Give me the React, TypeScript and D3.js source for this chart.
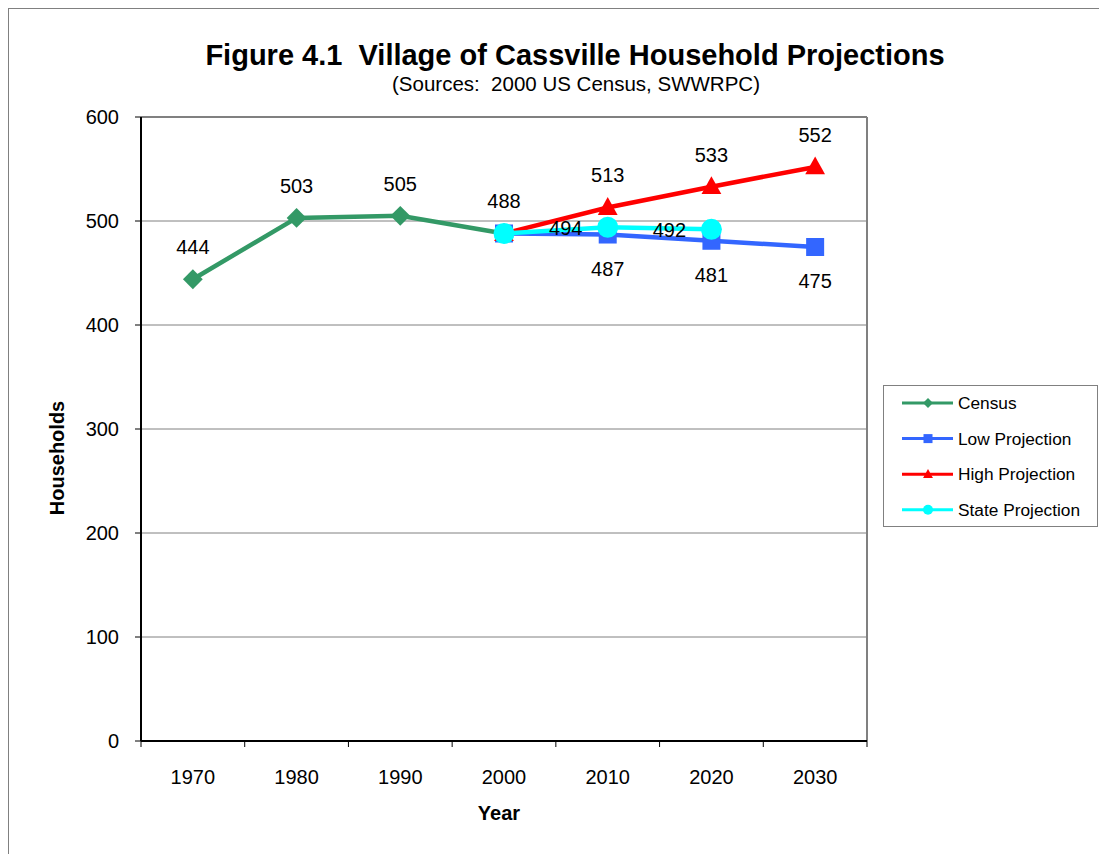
import React, { useEffect } from "react";
import * as d3 from "d3";

const years = ["1970", "1980", "1990", "2000", "2010", "2020", "2030"];
const census = [444, 503, 505, 488, null, null, null];
const lowProj = [null, null, null, 488, 487, 481, 475];
const highProj = [null, null, null, 488, 513, 533, 552];
const stateProj = [null, null, null, 488, 494, 492, null];
const yTicks = [0, 100, 200, 300, 400, 500, 600];

type Series = {
  name: string;
  values: (number | null)[];
  color: string;
  marker: "diamond" | "square" | "triangle" | "circle";
  labelPos: "above" | "below" | "left" | "none";
  labelSkip: number[];
};

const series: Series[] = [
  { name: "Census", values: census, color: "#339966", marker: "diamond", labelPos: "above", labelSkip: [] },
  { name: "Low Projection", values: lowProj, color: "#3366FF", marker: "square", labelPos: "below", labelSkip: [3] },
  { name: "High Projection", values: highProj, color: "#FF0000", marker: "triangle", labelPos: "above", labelSkip: [3] },
  { name: "State Projection", values: stateProj, color: "#00FFFF", marker: "circle", labelPos: "left", labelSkip: [3] },
];

const FONT = "Liberation Sans, Arial, sans-serif";

function Marker({ type, x, y, color, s }: { type: string; x: number; y: number; color: string; s: number }) {
  if (type === "diamond") {
    const r = s * 0.55;
    return <path d={`M${x},${y - r}L${x + r},${y}L${x},${y + r}L${x - r},${y}Z`} fill={color} />;
  }
  if (type === "square") {
    const r = s * 0.5;
    return <rect x={x - r} y={y - r} width={2 * r} height={2 * r} fill={color} />;
  }
  if (type === "triangle") {
    const r = s * 0.55;
    return <path d={`M${x},${y - r * 1.05}L${x + r},${y + r * 0.75}L${x - r},${y + r * 0.75}Z`} fill={color} />;
  }
  return <circle cx={x} cy={y} r={s * 0.5} fill={color} />;
}

export default function App() {
  useEffect(() => {
    document.documentElement.style.overflow = "hidden";
    document.body.style.overflow = "hidden";
  }, []);
  const W = 1099, H = 854;
  const left = 141, right = 867, top = 117, bottom = 741;

  const x = d3.scaleBand<string>().domain(years).range([left, right]);
  const y = d3.scaleLinear().domain([0, 600]).range([bottom, top]);
  const cx = (c: string) => (x(c) as number) + x.bandwidth() / 2;

  const line = d3
    .line<{ c: string; v: number | null }>()
    .defined((d) => d.v !== null)
    .x((d) => cx(d.c))
    .y((d) => y(d.v as number));

  const boundaries = years.map((c) => x(c) as number).concat([right]);

  return (
    <svg
      width={W}
      height={H}
      style={{ display: "block", fontFamily: FONT, position: "absolute", left: 0, top: 0 }}
    >
      <rect x={8.5} y={8.5} width={W + 40} height={H + 40} fill="white" stroke="#808080" strokeWidth={1} />
      <text x={575} y={65} textAnchor="middle" fontSize={29} fontWeight="bold" fill="#000" style={{ whiteSpace: "pre" }}>
        Figure 4.1  Village of Cassville Household Projections
      </text>
      <text x={576} y={91} textAnchor="middle" fontSize={20.5} fill="#000" style={{ whiteSpace: "pre" }}>
        (Sources:  2000 US Census, SWWRPC)
      </text>

      {/* gridlines */}
      {yTicks.filter((t) => t > 0 && t < 600).map((t) => (
        <line key={t} x1={left} x2={right} y1={y(t)} y2={y(t)} stroke="#808080" strokeWidth={1} />
      ))}
      {/* plot border top/right */}
      <line x1={left} x2={right} y1={top} y2={top} stroke="#808080" strokeWidth={2} />
      <line x1={right} x2={right} y1={top} y2={bottom} stroke="#808080" strokeWidth={2} />
      {/* axes */}
      <line x1={left} x2={left} y1={top} y2={bottom} stroke="#000" strokeWidth={2} />
      <line x1={left} x2={right} y1={bottom} y2={bottom} stroke="#000" strokeWidth={2} />
      {yTicks.map((t) => (
        <g key={t}>
          <line x1={left - 6} x2={left} y1={y(t)} y2={y(t)} stroke="#000" strokeWidth={1} />
          <text x={left - 22} y={y(t)} dy="0.35em" textAnchor="end" fontSize={20}>
            {t}
          </text>
        </g>
      ))}
      {boundaries.map((b, i) => (
        <line key={i} x1={b} x2={b} y1={bottom} y2={bottom + 6} stroke="#000" strokeWidth={1} />
      ))}
      {years.map((c) => (
        <text key={c} x={cx(c)} y={bottom + 36} dy="0.35em" textAnchor="middle" fontSize={20}>
          {c}
        </text>
      ))}
      <text x={499} y={813} dy="0.35em" textAnchor="middle" fontSize={20} fontWeight="bold">
        Year
      </text>
      <text
        transform={`translate(${57},${458}) rotate(-90)`}
        dy="0.35em"
        textAnchor="middle"
        fontSize={20}
        fontWeight="bold"
      >
        Households
      </text>

      {/* series */}
      {series.map((s) => {
        const pts = years.map((c, i) => ({ c, v: s.values[i] }));
        return (
          <g key={s.name}>
            <path d={line(pts) as string} fill="none" stroke={s.color} strokeWidth={4.5} />
            {pts.map((p, i) =>
              p.v === null ? null : (
                <Marker key={i} type={s.marker} x={cx(p.c)} y={y(p.v)} color={s.color} s={s.marker === "circle" ? 21 : 18} />
              )
            )}
          </g>
        );
      })}
      {/* data labels */}
      {series.map((s) =>
        years.map((c, i) => {
          const v = s.values[i];
          if (v === null || s.labelSkip.includes(i)) return null;
          let lx = cx(c), ly = y(v);
          if (s.labelPos === "above") ly -= 32;
          else if (s.labelPos === "below") ly += 34;
          else if (s.labelPos === "left") {
            lx -= 42;
            ly += 1;
          }
          return (
            <text key={s.name + c} x={lx} y={ly} dy="0.35em" textAnchor="middle" fontSize={20}>
              {v}
            </text>
          );
        })
      )}

      {/* legend */}
      <rect x={883.5} y={385.5} width={214} height={141} fill="white" stroke="#808080" strokeWidth={1} />
      {series.map((s, i) => {
        const ly = 403 + i * 35.6;
        return (
          <g key={s.name}>
            <line x1={902} x2={953} y1={ly} y2={ly} stroke={s.color} strokeWidth={3} />
            <Marker type={s.marker} x={928} y={ly} color={s.color} s={s.marker === "circle" ? 10 : 9} />
            <text x={958} y={ly} dy="0.35em" fontSize={17.3}>
              {s.name}
            </text>
          </g>
        );
      })}
    </svg>
  );
}
